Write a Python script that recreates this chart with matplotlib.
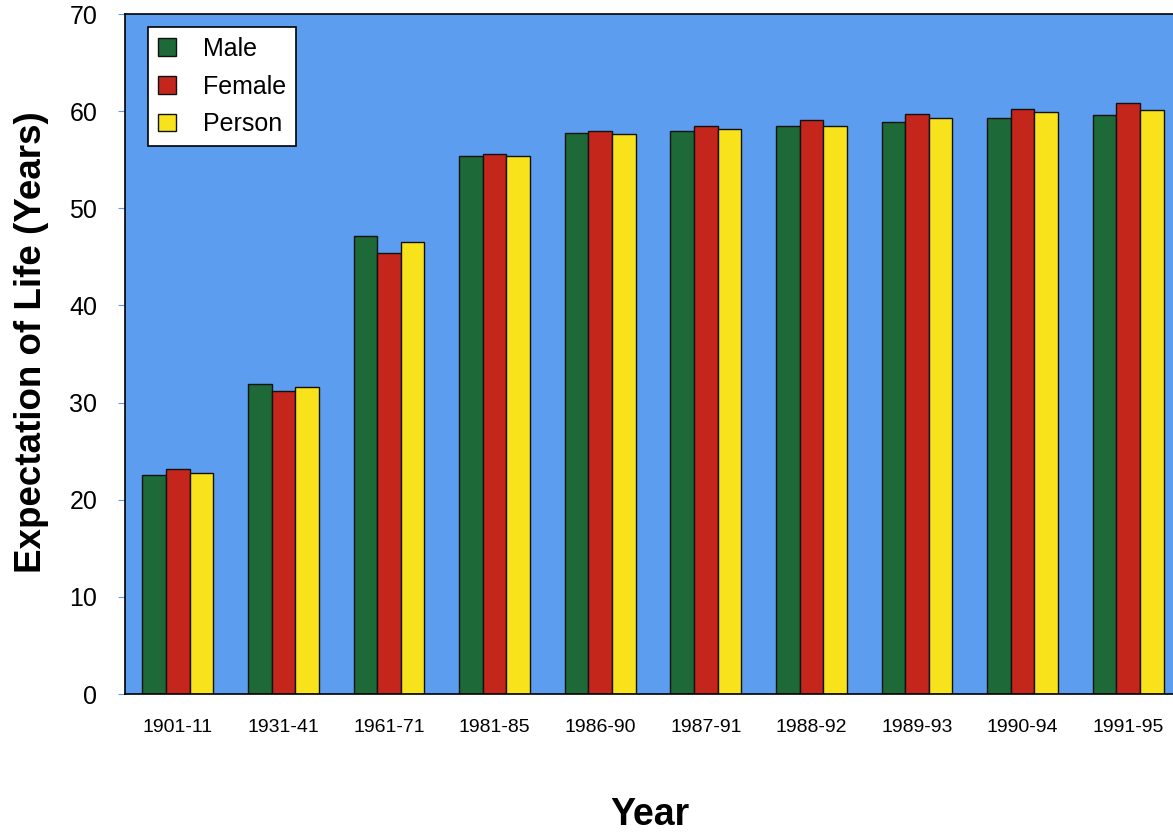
import matplotlib.pyplot as plt
import numpy as np

plt.rcParams['font.family'] = ['Liberation Sans', 'DejaVu Sans']

# Datos: esperanza de vida por periodo
periodos = ['1901-11', '1931-41', '1961-71', '1981-85', '1986-90',
            '1987-91', '1988-92', '1989-93', '1990-94', '1991-95']
hombres = [22.5, 31.9, 47.1, 55.4, 57.8, 58.0, 58.5, 58.9, 59.3, 59.6]
mujeres = [23.2, 31.2, 45.4, 55.6, 58.0, 58.5, 59.1, 59.7, 60.2, 60.8]
personas = [22.7, 31.6, 46.5, 55.4, 57.6, 58.2, 58.5, 59.3, 59.9, 60.1]

series = [('Male', hombres, '#1d6a38'),
          ('Female', mujeres, '#c4261c'),
          ('Person', personas, '#f8e21c')]

fig = plt.figure(figsize=(11.73, 8.33), dpi=100)
ax = fig.add_axes([125 / 1173, 139 / 833, 1056 / 1173, 680 / 833])
ax.set_facecolor('#5c9df0')

x = np.arange(len(periodos))
ancho = 0.223
for i, (nombre, valores, color) in enumerate(series):
    ax.bar(x + (i - 1) * ancho, valores, ancho, color=color, edgecolor='#111111',
           linewidth=1.0, label=nombre)

ax.set_xlim(-0.5, 9.5)
ax.set_ylim(0, 70)
ax.set_yticks(range(0, 71, 10))
ax.set_xticks(x)
ax.set_xticklabels(periodos, fontsize=14)
ax.tick_params(axis='y', labelsize=18, length=5, width=0.8, color='#5c9df0', pad=15)
ax.tick_params(axis='x', length=0, pad=18)
for lado in ['top', 'left', 'bottom']:
    ax.spines[lado].set_linewidth(1.2)
ax.spines['right'].set_visible(False)

ax.set_ylabel('Expectation of Life (Years)', fontsize=26.5, fontweight='bold')
ax.yaxis.set_label_coords(-0.072, 0.518)
ax.set_xlabel('Year', fontsize=27, fontweight='bold')
ax.xaxis.set_label_coords(0.497, -0.151)

leg = ax.legend(loc='upper left', bbox_to_anchor=(0.0218, 0.981), borderaxespad=0,
                fontsize=18, frameon=True, fancybox=False, edgecolor='black',
                framealpha=1, handlelength=0.7, handleheight=0.7, handletextpad=1.1,
                labelspacing=0.55, borderpad=0.4)
leg.get_frame().set_linewidth(1.2)

fig.savefig('out.png', dpi=100)
